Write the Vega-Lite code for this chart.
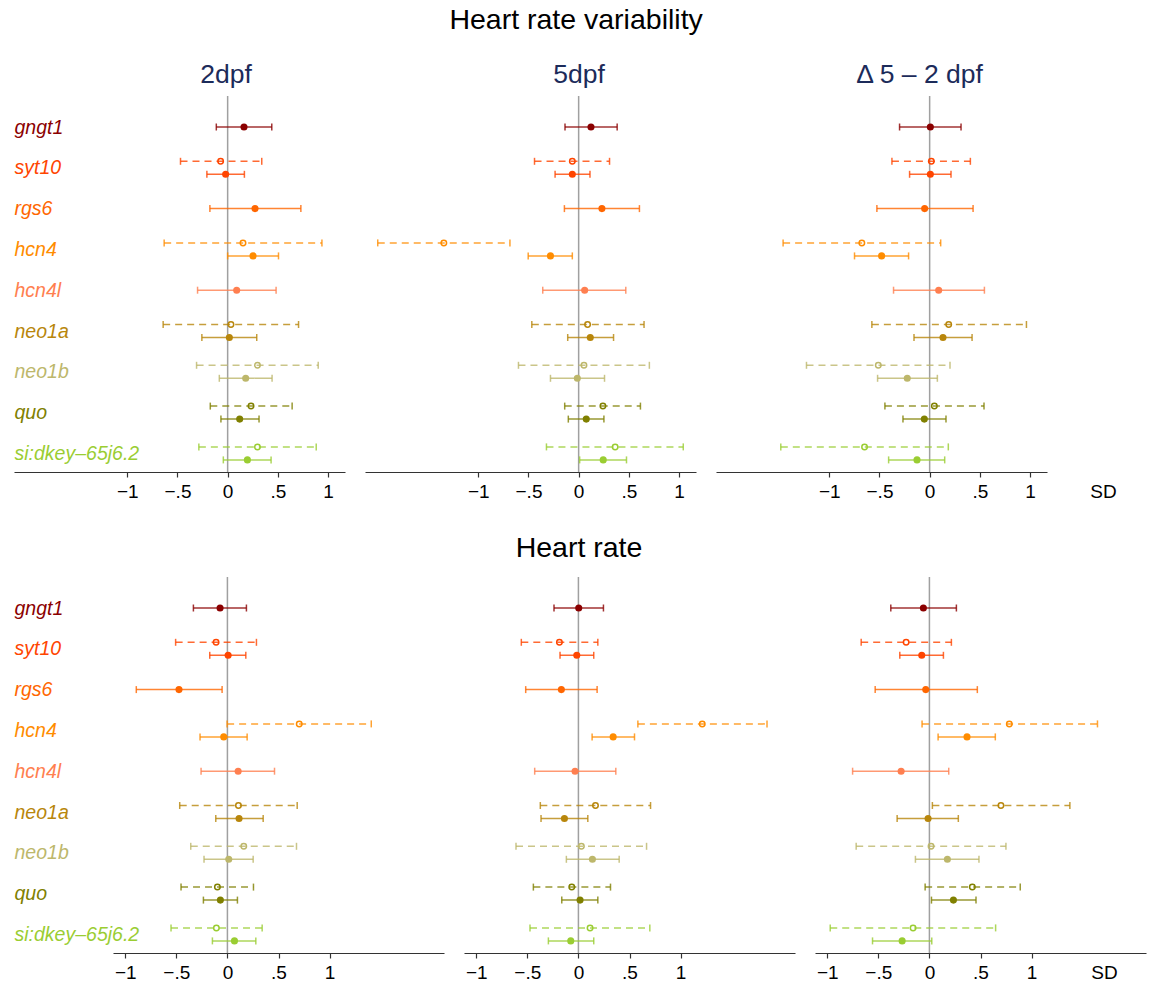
{
  "$schema": "https://vega.github.io/schema/vega-lite/v6.json",
  "padding": {"left": 14, "top": 6, "right": 2, "bottom": 0},
  "config": {
    "view": {"stroke": null},
    "font": "Liberation Sans",
    "concat": {"spacing": 20},
    "axis": {"grid": false}
  },
  "datasets": {
    "zero": [{"ref": 0}],
    "est": [
      {"trait": "HRV", "stage": "2dpf", "gene": "gngt1", "model": "only", "lo": -0.113, "est": 0.163, "hi": 0.44},
      {"trait": "HRV", "stage": "2dpf", "gene": "syt10", "model": "alt", "lo": -0.47, "est": -0.07, "hi": 0.34},
      {"trait": "HRV", "stage": "2dpf", "gene": "syt10", "model": "main", "lo": -0.207, "est": -0.02, "hi": 0.167},
      {"trait": "HRV", "stage": "2dpf", "gene": "rgs6", "model": "only", "lo": -0.177, "est": 0.273, "hi": 0.73},
      {"trait": "HRV", "stage": "2dpf", "gene": "hcn4", "model": "alt", "lo": -0.633, "est": 0.153, "hi": 0.94},
      {"trait": "HRV", "stage": "2dpf", "gene": "hcn4", "model": "main", "lo": 0.0, "est": 0.253, "hi": 0.507},
      {"trait": "HRV", "stage": "2dpf", "gene": "hcn4l", "model": "only", "lo": -0.3, "est": 0.09, "hi": 0.483},
      {"trait": "HRV", "stage": "2dpf", "gene": "neo1a", "model": "alt", "lo": -0.643, "est": 0.033, "hi": 0.707},
      {"trait": "HRV", "stage": "2dpf", "gene": "neo1a", "model": "main", "lo": -0.257, "est": 0.017, "hi": 0.29},
      {"trait": "HRV", "stage": "2dpf", "gene": "neo1b", "model": "alt", "lo": -0.31, "est": 0.297, "hi": 0.903},
      {"trait": "HRV", "stage": "2dpf", "gene": "neo1b", "model": "main", "lo": -0.083, "est": 0.18, "hi": 0.443},
      {"trait": "HRV", "stage": "2dpf", "gene": "quo", "model": "alt", "lo": -0.173, "est": 0.233, "hi": 0.643},
      {"trait": "HRV", "stage": "2dpf", "gene": "quo", "model": "main", "lo": -0.067, "est": 0.12, "hi": 0.313},
      {"trait": "HRV", "stage": "2dpf", "gene": "si:dkey–65j6.2", "model": "alt", "lo": -0.287, "est": 0.297, "hi": 0.883},
      {"trait": "HRV", "stage": "2dpf", "gene": "si:dkey–65j6.2", "model": "main", "lo": -0.043, "est": 0.197, "hi": 0.433},

      {"trait": "HRV", "stage": "5dpf", "gene": "gngt1", "model": "only", "lo": -0.136, "est": 0.123, "hi": 0.384},
      {"trait": "HRV", "stage": "5dpf", "gene": "syt10", "model": "alt", "lo": -0.44, "est": -0.063, "hi": 0.308},
      {"trait": "HRV", "stage": "5dpf", "gene": "syt10", "model": "main", "lo": -0.235, "est": -0.063, "hi": 0.113},
      {"trait": "HRV", "stage": "5dpf", "gene": "rgs6", "model": "only", "lo": -0.142, "est": 0.232, "hi": 0.606},
      {"trait": "HRV", "stage": "5dpf", "gene": "hcn4", "model": "alt", "lo": -2.003, "est": -1.344, "hi": -0.685},
      {"trait": "HRV", "stage": "5dpf", "gene": "hcn4", "model": "main", "lo": -0.503, "est": -0.281, "hi": -0.063},
      {"trait": "HRV", "stage": "5dpf", "gene": "hcn4l", "model": "only", "lo": -0.358, "est": 0.06, "hi": 0.47},
      {"trait": "HRV", "stage": "5dpf", "gene": "neo1a", "model": "alt", "lo": -0.467, "est": 0.089, "hi": 0.652},
      {"trait": "HRV", "stage": "5dpf", "gene": "neo1a", "model": "main", "lo": -0.109, "est": 0.116, "hi": 0.348},
      {"trait": "HRV", "stage": "5dpf", "gene": "neo1b", "model": "alt", "lo": -0.6, "est": 0.053, "hi": 0.705},
      {"trait": "HRV", "stage": "5dpf", "gene": "neo1b", "model": "main", "lo": -0.281, "est": -0.013, "hi": 0.258},
      {"trait": "HRV", "stage": "5dpf", "gene": "quo", "model": "alt", "lo": -0.139, "est": 0.242, "hi": 0.616},
      {"trait": "HRV", "stage": "5dpf", "gene": "quo", "model": "main", "lo": -0.103, "est": 0.076, "hi": 0.252},
      {"trait": "HRV", "stage": "5dpf", "gene": "si:dkey–65j6.2", "model": "alt", "lo": -0.321, "est": 0.364, "hi": 1.043},
      {"trait": "HRV", "stage": "5dpf", "gene": "si:dkey–65j6.2", "model": "main", "lo": 0.01, "est": 0.245, "hi": 0.477},

      {"trait": "HRV", "stage": "delta", "gene": "gngt1", "model": "only", "lo": -0.3, "est": 0.007, "hi": 0.313},
      {"trait": "HRV", "stage": "delta", "gene": "syt10", "model": "alt", "lo": -0.376, "est": 0.017, "hi": 0.406},
      {"trait": "HRV", "stage": "delta", "gene": "syt10", "model": "main", "lo": -0.2, "est": 0.007, "hi": 0.213},
      {"trait": "HRV", "stage": "delta", "gene": "rgs6", "model": "only", "lo": -0.526, "est": -0.05, "hi": 0.433},
      {"trait": "HRV", "stage": "delta", "gene": "hcn4", "model": "alt", "lo": -1.461, "est": -0.676, "hi": 0.11},
      {"trait": "HRV", "stage": "delta", "gene": "hcn4", "model": "main", "lo": -0.749, "est": -0.479, "hi": -0.21},
      {"trait": "HRV", "stage": "delta", "gene": "hcn4l", "model": "only", "lo": -0.36, "est": 0.09, "hi": 0.546},
      {"trait": "HRV", "stage": "delta", "gene": "neo1a", "model": "alt", "lo": -0.576, "est": 0.19, "hi": 0.965},
      {"trait": "HRV", "stage": "delta", "gene": "neo1a", "model": "main", "lo": -0.156, "est": 0.133, "hi": 0.423},
      {"trait": "HRV", "stage": "delta", "gene": "neo1b", "model": "alt", "lo": -1.228, "est": -0.512, "hi": 0.203},
      {"trait": "HRV", "stage": "delta", "gene": "neo1b", "model": "main", "lo": -0.519, "est": -0.223, "hi": 0.077},
      {"trait": "HRV", "stage": "delta", "gene": "quo", "model": "alt", "lo": -0.446, "est": 0.047, "hi": 0.542},
      {"trait": "HRV", "stage": "delta", "gene": "quo", "model": "main", "lo": -0.266, "est": -0.053, "hi": 0.163},
      {"trait": "HRV", "stage": "delta", "gene": "si:dkey–65j6.2", "model": "alt", "lo": -1.484, "est": -0.649, "hi": 0.186},
      {"trait": "HRV", "stage": "delta", "gene": "si:dkey–65j6.2", "model": "main", "lo": -0.409, "est": -0.126, "hi": 0.15},

      {"trait": "HR", "stage": "2dpf", "gene": "gngt1", "model": "only", "lo": -0.333, "est": -0.072, "hi": 0.186},
      {"trait": "HR", "stage": "2dpf", "gene": "syt10", "model": "alt", "lo": -0.507, "est": -0.111, "hi": 0.284},
      {"trait": "HR", "stage": "2dpf", "gene": "syt10", "model": "main", "lo": -0.173, "est": 0.007, "hi": 0.18},
      {"trait": "HR", "stage": "2dpf", "gene": "rgs6", "model": "only", "lo": -0.892, "est": -0.474, "hi": -0.052},
      {"trait": "HR", "stage": "2dpf", "gene": "hcn4", "model": "alt", "lo": -0.003, "est": 0.703, "hi": 1.408},
      {"trait": "HR", "stage": "2dpf", "gene": "hcn4", "model": "main", "lo": -0.268, "est": -0.036, "hi": 0.193},
      {"trait": "HR", "stage": "2dpf", "gene": "hcn4l", "model": "only", "lo": -0.258, "est": 0.105, "hi": 0.461},
      {"trait": "HR", "stage": "2dpf", "gene": "neo1a", "model": "alt", "lo": -0.467, "est": 0.108, "hi": 0.683},
      {"trait": "HR", "stage": "2dpf", "gene": "neo1a", "model": "main", "lo": -0.114, "est": 0.114, "hi": 0.35},
      {"trait": "HR", "stage": "2dpf", "gene": "neo1b", "model": "alt", "lo": -0.359, "est": 0.16, "hi": 0.676},
      {"trait": "HR", "stage": "2dpf", "gene": "neo1b", "model": "main", "lo": -0.229, "est": 0.013, "hi": 0.252},
      {"trait": "HR", "stage": "2dpf", "gene": "quo", "model": "alt", "lo": -0.454, "est": -0.098, "hi": 0.255},
      {"trait": "HR", "stage": "2dpf", "gene": "quo", "model": "main", "lo": -0.235, "est": -0.069, "hi": 0.098},
      {"trait": "HR", "stage": "2dpf", "gene": "si:dkey–65j6.2", "model": "alt", "lo": -0.552, "est": -0.108, "hi": 0.34},
      {"trait": "HR", "stage": "2dpf", "gene": "si:dkey–65j6.2", "model": "main", "lo": -0.147, "est": 0.069, "hi": 0.278},

      {"trait": "HR", "stage": "5dpf", "gene": "gngt1", "model": "only", "lo": -0.239, "est": 0.003, "hi": 0.245},
      {"trait": "HR", "stage": "5dpf", "gene": "syt10", "model": "alt", "lo": -0.559, "est": -0.186, "hi": 0.19},
      {"trait": "HR", "stage": "5dpf", "gene": "syt10", "model": "main", "lo": -0.18, "est": -0.016, "hi": 0.15},
      {"trait": "HR", "stage": "5dpf", "gene": "rgs6", "model": "only", "lo": -0.516, "est": -0.167, "hi": 0.183},
      {"trait": "HR", "stage": "5dpf", "gene": "hcn4", "model": "alt", "lo": 0.582, "est": 1.212, "hi": 1.846},
      {"trait": "HR", "stage": "5dpf", "gene": "hcn4", "model": "main", "lo": 0.134, "est": 0.34, "hi": 0.549},
      {"trait": "HR", "stage": "5dpf", "gene": "hcn4l", "model": "only", "lo": -0.428, "est": -0.033, "hi": 0.366},
      {"trait": "HR", "stage": "5dpf", "gene": "neo1a", "model": "alt", "lo": -0.373, "est": 0.167, "hi": 0.706},
      {"trait": "HR", "stage": "5dpf", "gene": "neo1a", "model": "main", "lo": -0.366, "est": -0.137, "hi": 0.092},
      {"trait": "HR", "stage": "5dpf", "gene": "neo1b", "model": "alt", "lo": -0.611, "est": 0.029, "hi": 0.667},
      {"trait": "HR", "stage": "5dpf", "gene": "neo1b", "model": "main", "lo": -0.118, "est": 0.137, "hi": 0.399},
      {"trait": "HR", "stage": "5dpf", "gene": "quo", "model": "alt", "lo": -0.441, "est": -0.065, "hi": 0.314},
      {"trait": "HR", "stage": "5dpf", "gene": "quo", "model": "main", "lo": -0.163, "est": 0.016, "hi": 0.19},
      {"trait": "HR", "stage": "5dpf", "gene": "si:dkey–65j6.2", "model": "alt", "lo": -0.474, "est": 0.114, "hi": 0.699},
      {"trait": "HR", "stage": "5dpf", "gene": "si:dkey–65j6.2", "model": "main", "lo": -0.294, "est": -0.075, "hi": 0.15},

      {"trait": "HR", "stage": "delta", "gene": "gngt1", "model": "only", "lo": -0.378, "est": -0.059, "hi": 0.264},
      {"trait": "HR", "stage": "delta", "gene": "syt10", "model": "alt", "lo": -0.668, "est": -0.228, "hi": 0.215},
      {"trait": "HR", "stage": "delta", "gene": "syt10", "model": "main", "lo": -0.29, "est": -0.075, "hi": 0.137},
      {"trait": "HR", "stage": "delta", "gene": "rgs6", "model": "only", "lo": -0.531, "est": -0.036, "hi": 0.469},
      {"trait": "HR", "stage": "delta", "gene": "hcn4", "model": "alt", "lo": -0.072, "est": 0.782, "hi": 1.645},
      {"trait": "HR", "stage": "delta", "gene": "hcn4", "model": "main", "lo": 0.085, "est": 0.368, "hi": 0.645},
      {"trait": "HR", "stage": "delta", "gene": "hcn4l", "model": "only", "lo": -0.752, "est": -0.277, "hi": 0.189},
      {"trait": "HR", "stage": "delta", "gene": "neo1a", "model": "alt", "lo": 0.029, "est": 0.7, "hi": 1.375},
      {"trait": "HR", "stage": "delta", "gene": "neo1a", "model": "main", "lo": -0.316, "est": -0.013, "hi": 0.283},
      {"trait": "HR", "stage": "delta", "gene": "neo1b", "model": "alt", "lo": -0.717, "est": 0.016, "hi": 0.749},
      {"trait": "HR", "stage": "delta", "gene": "neo1b", "model": "main", "lo": -0.137, "est": 0.176, "hi": 0.485},
      {"trait": "HR", "stage": "delta", "gene": "quo", "model": "alt", "lo": -0.042, "est": 0.42, "hi": 0.889},
      {"trait": "HR", "stage": "delta", "gene": "quo", "model": "main", "lo": 0.02, "est": 0.235, "hi": 0.456},
      {"trait": "HR", "stage": "delta", "gene": "si:dkey–65j6.2", "model": "alt", "lo": -0.971, "est": -0.16, "hi": 0.648},
      {"trait": "HR", "stage": "delta", "gene": "si:dkey–65j6.2", "model": "main", "lo": -0.557, "est": -0.267, "hi": 0.023}
    ]
  },
  "resolve": {"scale": {"x": "independent", "y": "independent"}},
  "spacing": 32,
  "vconcat": [
    {
      "title": {"text": "Heart rate variability", "fontSize": 28.5, "fontWeight": "normal", "color": "black", "anchor": "middle", "dx": 11, "offset": 27},
      "resolve": {"scale": {"x": "independent", "y": "independent"}},
      "hconcat": [
        {
          "width": 331, "height": 376,
          "title": {"text": "2dpf", "fontSize": 26.5, "fontWeight": "normal", "color": "#1c2b5a", "anchor": "middle", "dx": 46.5, "offset": 7},
          "layer": [
            {"data": {"name": "zero"}, "mark": {"type": "rule", "color": "#a0a0a0", "strokeWidth": 1.5},
             "encoding": {"x": {"field": "ref", "type": "quantitative", "scale": {"domain": [-2.13, 1.17], "nice": false, "zero": false},
               "axis": {"values": [-1, -0.5, 0, 0.5, 1], "labelExpr": "datum.value == -1 ? '−1' : datum.value == -0.5 ? '−.5' : datum.value == 0 ? '0' : datum.value == 0.5 ? '.5' : '1'", "title": null, "domainColor": "#333", "domainWidth": 1.2, "tickColor": "#333", "tickWidth": 1.2, "tickSize": 5, "labelFontSize": 19, "labelColor": "black", "labelPadding": 5, "labelFont": "Liberation Sans"}}}},
            {"data": {"name": "est"},
             "transform": [{"filter": "datum.trait === 'HRV' && datum.stage === '2dpf'"}],
             "encoding": {
               "y": {"field": "gene", "type": "nominal", "sort": ["gngt1", "syt10", "rgs6", "hcn4", "hcn4l", "neo1a", "neo1b", "quo", "si:dkey–65j6.2"], "scale": {"type": "point", "padding": 0.608, "align": 0.625},
                 "axis": {"title": null, "domain": false, "ticks": false, "labelAlign": "left", "labelPadding": 0, "labelFontSize": 19.5, "labelFontStyle": "italic", "labelFont": "Liberation Sans", "labelOverlap": false, "labelBaseline": "middle",
                   "labelColor": {"condition": [
                     {"test": "datum.value === 'gngt1'", "value": "#8b0000"},
                     {"test": "datum.value === 'syt10'", "value": "#ff4500"},
                     {"test": "datum.value === 'rgs6'", "value": "#ff6600"},
                     {"test": "datum.value === 'hcn4'", "value": "#ff8c00"},
                     {"test": "datum.value === 'hcn4l'", "value": "#ff7f50"},
                     {"test": "datum.value === 'neo1a'", "value": "#b8860b"},
                     {"test": "datum.value === 'neo1b'", "value": "#bdb76b"},
                     {"test": "datum.value === 'quo'", "value": "#808000"}], "value": "#9acd32"}}},
               "yOffset": {"field": "model", "type": "nominal", "scale": {"type": "point", "domain": ["alt", "only", "main"], "range": [-6.5, 6.5], "padding": 0}},
               "color": {"field": "gene", "type": "nominal", "legend": null, "scale": {"domain": ["gngt1", "syt10", "rgs6", "hcn4", "hcn4l", "neo1a", "neo1b", "quo", "si:dkey–65j6.2"], "range": ["#8b0000", "#ff4500", "#ff6600", "#ff8c00", "#ff7f50", "#b8860b", "#bdb76b", "#808000", "#9acd32"]}}
             },
             "layer": [
               {"mark": {"type": "rule", "strokeWidth": 1.5, "opacity": 0.8},
                "encoding": {"x": {"field": "lo", "type": "quantitative", "title": null, "scale": {"domain": [-2.13, 1.17], "nice": false, "zero": false}}, "x2": {"field": "hi"},
                  "strokeDash": {"field": "model", "type": "nominal", "legend": null, "scale": {"domain": ["alt", "only", "main"], "range": [[7, 5], [1, 0], [1, 0]]}}}},
               {"mark": {"type": "tick", "orient": "vertical", "size": 7, "thickness": 1.5, "opacity": 0.8},
                "encoding": {"x": {"field": "lo", "type": "quantitative", "title": null, "scale": {"domain": [-2.13, 1.17], "nice": false, "zero": false}}}},
               {"mark": {"type": "tick", "orient": "vertical", "size": 7, "thickness": 1.5, "opacity": 0.8},
                "encoding": {"x": {"field": "hi", "type": "quantitative", "title": null, "scale": {"domain": [-2.13, 1.17], "nice": false, "zero": false}}}},
               {"transform": [{"filter": "datum.model === 'alt'"}], "mark": {"type": "point", "shape": "circle", "filled": false, "size": 30, "strokeWidth": 1.5, "opacity": 1},
                "encoding": {"x": {"field": "est", "type": "quantitative", "title": null, "scale": {"domain": [-2.13, 1.17], "nice": false, "zero": false}}}},
               {"transform": [{"filter": "datum.model !== 'alt'"}], "mark": {"type": "circle", "size": 50, "opacity": 1},
                "encoding": {"x": {"field": "est", "type": "quantitative", "title": null, "scale": {"domain": [-2.13, 1.17], "nice": false, "zero": false}}}}
             ]}
          ]
        },
        {
          "width": 331, "height": 376,
          "title": {"text": "5dpf", "fontSize": 26.5, "fontWeight": "normal", "color": "#1c2b5a", "anchor": "middle", "dx": 48.5, "offset": 7},
          "layer": [
            {"data": {"name": "zero"}, "mark": {"type": "rule", "color": "#a0a0a0", "strokeWidth": 1.5},
             "encoding": {"x": {"field": "ref", "type": "quantitative", "scale": {"domain": [-2.13, 1.17], "nice": false, "zero": false},
               "axis": {"values": [-1, -0.5, 0, 0.5, 1], "labelExpr": "datum.value == -1 ? '−1' : datum.value == -0.5 ? '−.5' : datum.value == 0 ? '0' : datum.value == 0.5 ? '.5' : '1'", "title": null, "domainColor": "#333", "domainWidth": 1.2, "tickColor": "#333", "tickWidth": 1.2, "tickSize": 5, "labelFontSize": 19, "labelColor": "black", "labelPadding": 5, "labelFont": "Liberation Sans"}}}},
            {"data": {"name": "est"},
             "transform": [{"filter": "datum.trait === 'HRV' && datum.stage === '5dpf'"}],
             "encoding": {
               "y": {"field": "gene", "type": "nominal", "sort": ["gngt1", "syt10", "rgs6", "hcn4", "hcn4l", "neo1a", "neo1b", "quo", "si:dkey–65j6.2"], "scale": {"type": "point", "padding": 0.608, "align": 0.625}, "axis": null},
               "yOffset": {"field": "model", "type": "nominal", "scale": {"type": "point", "domain": ["alt", "only", "main"], "range": [-6.5, 6.5], "padding": 0}},
               "color": {"field": "gene", "type": "nominal", "legend": null, "scale": {"domain": ["gngt1", "syt10", "rgs6", "hcn4", "hcn4l", "neo1a", "neo1b", "quo", "si:dkey–65j6.2"], "range": ["#8b0000", "#ff4500", "#ff6600", "#ff8c00", "#ff7f50", "#b8860b", "#bdb76b", "#808000", "#9acd32"]}}
             },
             "layer": [
               {"mark": {"type": "rule", "strokeWidth": 1.5, "opacity": 0.8},
                "encoding": {"x": {"field": "lo", "type": "quantitative", "title": null, "scale": {"domain": [-2.13, 1.17], "nice": false, "zero": false}}, "x2": {"field": "hi"},
                  "strokeDash": {"field": "model", "type": "nominal", "legend": null, "scale": {"domain": ["alt", "only", "main"], "range": [[7, 5], [1, 0], [1, 0]]}}}},
               {"mark": {"type": "tick", "orient": "vertical", "size": 7, "thickness": 1.5, "opacity": 0.8},
                "encoding": {"x": {"field": "lo", "type": "quantitative", "title": null, "scale": {"domain": [-2.13, 1.17], "nice": false, "zero": false}}}},
               {"mark": {"type": "tick", "orient": "vertical", "size": 7, "thickness": 1.5, "opacity": 0.8},
                "encoding": {"x": {"field": "hi", "type": "quantitative", "title": null, "scale": {"domain": [-2.13, 1.17], "nice": false, "zero": false}}}},
               {"transform": [{"filter": "datum.model === 'alt'"}], "mark": {"type": "point", "shape": "circle", "filled": false, "size": 30, "strokeWidth": 1.5, "opacity": 1},
                "encoding": {"x": {"field": "est", "type": "quantitative", "title": null, "scale": {"domain": [-2.13, 1.17], "nice": false, "zero": false}}}},
               {"transform": [{"filter": "datum.model !== 'alt'"}], "mark": {"type": "circle", "size": 50, "opacity": 1},
                "encoding": {"x": {"field": "est", "type": "quantitative", "title": null, "scale": {"domain": [-2.13, 1.17], "nice": false, "zero": false}}}}
             ]}
          ]
        },
        {
          "width": 331, "height": 376,
          "title": {"text": "Δ 5 – 2 dpf", "fontSize": 26.5, "fontWeight": "normal", "color": "#1c2b5a", "anchor": "middle", "dx": 38, "offset": 7},
          "layer": [
            {"data": {"name": "zero"}, "mark": {"type": "rule", "color": "#a0a0a0", "strokeWidth": 1.5},
             "encoding": {"x": {"field": "ref", "type": "quantitative", "title": "SD", "scale": {"domain": [-2.13, 1.17], "nice": false, "zero": false},
               "axis": {"values": [-1, -0.5, 0, 0.5, 1], "labelExpr": "datum.value == -1 ? '−1' : datum.value == -0.5 ? '−.5' : datum.value == 0 ? '0' : datum.value == 0.5 ? '.5' : '1'", "title": "SD", "titleFontSize": 19, "titleFontWeight": "normal", "titleColor": "black", "titleFont": "Liberation Sans", "titleX": 387, "titleY": 10, "titleAlign": "center", "titleBaseline": "top", "domainColor": "#333", "domainWidth": 1.2, "tickColor": "#333", "tickWidth": 1.2, "tickSize": 5, "labelFontSize": 19, "labelColor": "black", "labelPadding": 5, "labelFont": "Liberation Sans"}}}},
            {"data": {"name": "est"},
             "transform": [{"filter": "datum.trait === 'HRV' && datum.stage === 'delta'"}],
             "encoding": {
               "y": {"field": "gene", "type": "nominal", "sort": ["gngt1", "syt10", "rgs6", "hcn4", "hcn4l", "neo1a", "neo1b", "quo", "si:dkey–65j6.2"], "scale": {"type": "point", "padding": 0.608, "align": 0.625}, "axis": null},
               "yOffset": {"field": "model", "type": "nominal", "scale": {"type": "point", "domain": ["alt", "only", "main"], "range": [-6.5, 6.5], "padding": 0}},
               "color": {"field": "gene", "type": "nominal", "legend": null, "scale": {"domain": ["gngt1", "syt10", "rgs6", "hcn4", "hcn4l", "neo1a", "neo1b", "quo", "si:dkey–65j6.2"], "range": ["#8b0000", "#ff4500", "#ff6600", "#ff8c00", "#ff7f50", "#b8860b", "#bdb76b", "#808000", "#9acd32"]}}
             },
             "layer": [
               {"mark": {"type": "rule", "strokeWidth": 1.5, "opacity": 0.8},
                "encoding": {"x": {"field": "lo", "type": "quantitative", "title": "SD", "scale": {"domain": [-2.13, 1.17], "nice": false, "zero": false}}, "x2": {"field": "hi"},
                  "strokeDash": {"field": "model", "type": "nominal", "legend": null, "scale": {"domain": ["alt", "only", "main"], "range": [[7, 5], [1, 0], [1, 0]]}}}},
               {"mark": {"type": "tick", "orient": "vertical", "size": 7, "thickness": 1.5, "opacity": 0.8},
                "encoding": {"x": {"field": "lo", "type": "quantitative", "title": "SD", "scale": {"domain": [-2.13, 1.17], "nice": false, "zero": false}}}},
               {"mark": {"type": "tick", "orient": "vertical", "size": 7, "thickness": 1.5, "opacity": 0.8},
                "encoding": {"x": {"field": "hi", "type": "quantitative", "title": "SD", "scale": {"domain": [-2.13, 1.17], "nice": false, "zero": false}}}},
               {"transform": [{"filter": "datum.model === 'alt'"}], "mark": {"type": "point", "shape": "circle", "filled": false, "size": 30, "strokeWidth": 1.5, "opacity": 1},
                "encoding": {"x": {"field": "est", "type": "quantitative", "title": "SD", "scale": {"domain": [-2.13, 1.17], "nice": false, "zero": false}}}},
               {"transform": [{"filter": "datum.model !== 'alt'"}], "mark": {"type": "circle", "size": 50, "opacity": 1},
                "encoding": {"x": {"field": "est", "type": "quantitative", "title": "SD", "scale": {"domain": [-2.13, 1.17], "nice": false, "zero": false}}}}
             ]}
          ]
        }
      ]
    },
    {
      "title": {"text": "Heart rate", "fontSize": 28.5, "fontWeight": "normal", "color": "black", "anchor": "middle", "dx": -1, "offset": 14},
      "resolve": {"scale": {"x": "independent", "y": "independent"}},
      "bounds": "flush",
      "hconcat": [
        {
          "width": 79, "height": 376,
          "data": {"name": "est"},
          "transform": [{"filter": "datum.trait === 'HR' && datum.stage === '2dpf'"}],
          "mark": {"type": "point", "opacity": 0},
          "encoding": {
            "y": {"field": "gene", "type": "nominal", "sort": ["gngt1", "syt10", "rgs6", "hcn4", "hcn4l", "neo1a", "neo1b", "quo", "si:dkey–65j6.2"], "scale": {"type": "point", "padding": 0.608, "align": 0.625},
              "axis": {"title": null, "domain": false, "ticks": false, "labelAlign": "left", "labelPadding": 0, "labelFontSize": 19.5, "labelFontStyle": "italic", "labelFont": "Liberation Sans", "labelOverlap": false, "labelBaseline": "middle",
                "labelColor": {"condition": [
                  {"test": "datum.value === 'gngt1'", "value": "#8b0000"},
                  {"test": "datum.value === 'syt10'", "value": "#ff4500"},
                  {"test": "datum.value === 'rgs6'", "value": "#ff6600"},
                  {"test": "datum.value === 'hcn4'", "value": "#ff8c00"},
                  {"test": "datum.value === 'hcn4l'", "value": "#ff7f50"},
                  {"test": "datum.value === 'neo1a'", "value": "#b8860b"},
                  {"test": "datum.value === 'neo1b'", "value": "#bdb76b"},
                  {"test": "datum.value === 'quo'", "value": "#808000"}], "value": "#9acd32"}}}
          }
        },
        {
          "width": 331, "height": 376,
          "layer": [
            {"data": {"name": "zero"}, "mark": {"type": "rule", "color": "#a0a0a0", "strokeWidth": 1.5},
             "encoding": {"x": {"field": "ref", "type": "quantitative", "scale": {"domain": [-1.12, 2.12], "nice": false, "zero": false},
               "axis": {"values": [-1, -0.5, 0, 0.5, 1], "labelExpr": "datum.value == -1 ? '−1' : datum.value == -0.5 ? '−.5' : datum.value == 0 ? '0' : datum.value == 0.5 ? '.5' : '1'", "title": null, "domainColor": "#333", "domainWidth": 1.2, "tickColor": "#333", "tickWidth": 1.2, "tickSize": 5, "labelFontSize": 19, "labelColor": "black", "labelPadding": 5, "labelFont": "Liberation Sans"}}}},
            {"data": {"name": "est"},
             "transform": [{"filter": "datum.trait === 'HR' && datum.stage === '2dpf'"}],
             "encoding": {
               "y": {"field": "gene", "type": "nominal", "sort": ["gngt1", "syt10", "rgs6", "hcn4", "hcn4l", "neo1a", "neo1b", "quo", "si:dkey–65j6.2"], "scale": {"type": "point", "padding": 0.608, "align": 0.625}, "axis": null},
               "yOffset": {"field": "model", "type": "nominal", "scale": {"type": "point", "domain": ["alt", "only", "main"], "range": [-6.5, 6.5], "padding": 0}},
               "color": {"field": "gene", "type": "nominal", "legend": null, "scale": {"domain": ["gngt1", "syt10", "rgs6", "hcn4", "hcn4l", "neo1a", "neo1b", "quo", "si:dkey–65j6.2"], "range": ["#8b0000", "#ff4500", "#ff6600", "#ff8c00", "#ff7f50", "#b8860b", "#bdb76b", "#808000", "#9acd32"]}}
             },
             "layer": [
               {"mark": {"type": "rule", "strokeWidth": 1.5, "opacity": 0.8},
                "encoding": {"x": {"field": "lo", "type": "quantitative", "title": null, "scale": {"domain": [-1.12, 2.12], "nice": false, "zero": false}}, "x2": {"field": "hi"},
                  "strokeDash": {"field": "model", "type": "nominal", "legend": null, "scale": {"domain": ["alt", "only", "main"], "range": [[7, 5], [1, 0], [1, 0]]}}}},
               {"mark": {"type": "tick", "orient": "vertical", "size": 7, "thickness": 1.5, "opacity": 0.8},
                "encoding": {"x": {"field": "lo", "type": "quantitative", "title": null, "scale": {"domain": [-1.12, 2.12], "nice": false, "zero": false}}}},
               {"mark": {"type": "tick", "orient": "vertical", "size": 7, "thickness": 1.5, "opacity": 0.8},
                "encoding": {"x": {"field": "hi", "type": "quantitative", "title": null, "scale": {"domain": [-1.12, 2.12], "nice": false, "zero": false}}}},
               {"transform": [{"filter": "datum.model === 'alt'"}], "mark": {"type": "point", "shape": "circle", "filled": false, "size": 30, "strokeWidth": 1.5, "opacity": 1},
                "encoding": {"x": {"field": "est", "type": "quantitative", "title": null, "scale": {"domain": [-1.12, 2.12], "nice": false, "zero": false}}}},
               {"transform": [{"filter": "datum.model !== 'alt'"}], "mark": {"type": "circle", "size": 50, "opacity": 1},
                "encoding": {"x": {"field": "est", "type": "quantitative", "title": null, "scale": {"domain": [-1.12, 2.12], "nice": false, "zero": false}}}}
             ]}
          ]
        },
        {
          "width": 331, "height": 376,
          "layer": [
            {"data": {"name": "zero"}, "mark": {"type": "rule", "color": "#a0a0a0", "strokeWidth": 1.5},
             "encoding": {"x": {"field": "ref", "type": "quantitative", "scale": {"domain": [-1.12, 2.12], "nice": false, "zero": false},
               "axis": {"values": [-1, -0.5, 0, 0.5, 1], "labelExpr": "datum.value == -1 ? '−1' : datum.value == -0.5 ? '−.5' : datum.value == 0 ? '0' : datum.value == 0.5 ? '.5' : '1'", "title": null, "domainColor": "#333", "domainWidth": 1.2, "tickColor": "#333", "tickWidth": 1.2, "tickSize": 5, "labelFontSize": 19, "labelColor": "black", "labelPadding": 5, "labelFont": "Liberation Sans"}}}},
            {"data": {"name": "est"},
             "transform": [{"filter": "datum.trait === 'HR' && datum.stage === '5dpf'"}],
             "encoding": {
               "y": {"field": "gene", "type": "nominal", "sort": ["gngt1", "syt10", "rgs6", "hcn4", "hcn4l", "neo1a", "neo1b", "quo", "si:dkey–65j6.2"], "scale": {"type": "point", "padding": 0.608, "align": 0.625}, "axis": null},
               "yOffset": {"field": "model", "type": "nominal", "scale": {"type": "point", "domain": ["alt", "only", "main"], "range": [-6.5, 6.5], "padding": 0}},
               "color": {"field": "gene", "type": "nominal", "legend": null, "scale": {"domain": ["gngt1", "syt10", "rgs6", "hcn4", "hcn4l", "neo1a", "neo1b", "quo", "si:dkey–65j6.2"], "range": ["#8b0000", "#ff4500", "#ff6600", "#ff8c00", "#ff7f50", "#b8860b", "#bdb76b", "#808000", "#9acd32"]}}
             },
             "layer": [
               {"mark": {"type": "rule", "strokeWidth": 1.5, "opacity": 0.8},
                "encoding": {"x": {"field": "lo", "type": "quantitative", "title": null, "scale": {"domain": [-1.12, 2.12], "nice": false, "zero": false}}, "x2": {"field": "hi"},
                  "strokeDash": {"field": "model", "type": "nominal", "legend": null, "scale": {"domain": ["alt", "only", "main"], "range": [[7, 5], [1, 0], [1, 0]]}}}},
               {"mark": {"type": "tick", "orient": "vertical", "size": 7, "thickness": 1.5, "opacity": 0.8},
                "encoding": {"x": {"field": "lo", "type": "quantitative", "title": null, "scale": {"domain": [-1.12, 2.12], "nice": false, "zero": false}}}},
               {"mark": {"type": "tick", "orient": "vertical", "size": 7, "thickness": 1.5, "opacity": 0.8},
                "encoding": {"x": {"field": "hi", "type": "quantitative", "title": null, "scale": {"domain": [-1.12, 2.12], "nice": false, "zero": false}}}},
               {"transform": [{"filter": "datum.model === 'alt'"}], "mark": {"type": "point", "shape": "circle", "filled": false, "size": 30, "strokeWidth": 1.5, "opacity": 1},
                "encoding": {"x": {"field": "est", "type": "quantitative", "title": null, "scale": {"domain": [-1.12, 2.12], "nice": false, "zero": false}}}},
               {"transform": [{"filter": "datum.model !== 'alt'"}], "mark": {"type": "circle", "size": 50, "opacity": 1},
                "encoding": {"x": {"field": "est", "type": "quantitative", "title": null, "scale": {"domain": [-1.12, 2.12], "nice": false, "zero": false}}}}
             ]}
          ]
        },
        {
          "width": 331, "height": 376,
          "layer": [
            {"data": {"name": "zero"}, "mark": {"type": "rule", "color": "#a0a0a0", "strokeWidth": 1.5},
             "encoding": {"x": {"field": "ref", "type": "quantitative", "title": "SD", "scale": {"domain": [-1.12, 2.12], "nice": false, "zero": false},
               "axis": {"values": [-1, -0.5, 0, 0.5, 1], "labelExpr": "datum.value == -1 ? '−1' : datum.value == -0.5 ? '−.5' : datum.value == 0 ? '0' : datum.value == 0.5 ? '.5' : '1'", "title": "SD", "titleFontSize": 19, "titleFontWeight": "normal", "titleColor": "black", "titleFont": "Liberation Sans", "titleX": 289, "titleY": 10, "titleAlign": "center", "titleBaseline": "top", "domainColor": "#333", "domainWidth": 1.2, "tickColor": "#333", "tickWidth": 1.2, "tickSize": 5, "labelFontSize": 19, "labelColor": "black", "labelPadding": 5, "labelFont": "Liberation Sans"}}}},
            {"data": {"name": "est"},
             "transform": [{"filter": "datum.trait === 'HR' && datum.stage === 'delta'"}],
             "encoding": {
               "y": {"field": "gene", "type": "nominal", "sort": ["gngt1", "syt10", "rgs6", "hcn4", "hcn4l", "neo1a", "neo1b", "quo", "si:dkey–65j6.2"], "scale": {"type": "point", "padding": 0.608, "align": 0.625}, "axis": null},
               "yOffset": {"field": "model", "type": "nominal", "scale": {"type": "point", "domain": ["alt", "only", "main"], "range": [-6.5, 6.5], "padding": 0}},
               "color": {"field": "gene", "type": "nominal", "legend": null, "scale": {"domain": ["gngt1", "syt10", "rgs6", "hcn4", "hcn4l", "neo1a", "neo1b", "quo", "si:dkey–65j6.2"], "range": ["#8b0000", "#ff4500", "#ff6600", "#ff8c00", "#ff7f50", "#b8860b", "#bdb76b", "#808000", "#9acd32"]}}
             },
             "layer": [
               {"mark": {"type": "rule", "strokeWidth": 1.5, "opacity": 0.8},
                "encoding": {"x": {"field": "lo", "type": "quantitative", "title": "SD", "scale": {"domain": [-1.12, 2.12], "nice": false, "zero": false}}, "x2": {"field": "hi"},
                  "strokeDash": {"field": "model", "type": "nominal", "legend": null, "scale": {"domain": ["alt", "only", "main"], "range": [[7, 5], [1, 0], [1, 0]]}}}},
               {"mark": {"type": "tick", "orient": "vertical", "size": 7, "thickness": 1.5, "opacity": 0.8},
                "encoding": {"x": {"field": "lo", "type": "quantitative", "title": "SD", "scale": {"domain": [-1.12, 2.12], "nice": false, "zero": false}}}},
               {"mark": {"type": "tick", "orient": "vertical", "size": 7, "thickness": 1.5, "opacity": 0.8},
                "encoding": {"x": {"field": "hi", "type": "quantitative", "title": "SD", "scale": {"domain": [-1.12, 2.12], "nice": false, "zero": false}}}},
               {"transform": [{"filter": "datum.model === 'alt'"}], "mark": {"type": "point", "shape": "circle", "filled": false, "size": 30, "strokeWidth": 1.5, "opacity": 1},
                "encoding": {"x": {"field": "est", "type": "quantitative", "title": "SD", "scale": {"domain": [-1.12, 2.12], "nice": false, "zero": false}}}},
               {"transform": [{"filter": "datum.model !== 'alt'"}], "mark": {"type": "circle", "size": 50, "opacity": 1},
                "encoding": {"x": {"field": "est", "type": "quantitative", "title": "SD", "scale": {"domain": [-1.12, 2.12], "nice": false, "zero": false}}}}
             ]}
          ]
        }
      ]
    }
  ]
}
